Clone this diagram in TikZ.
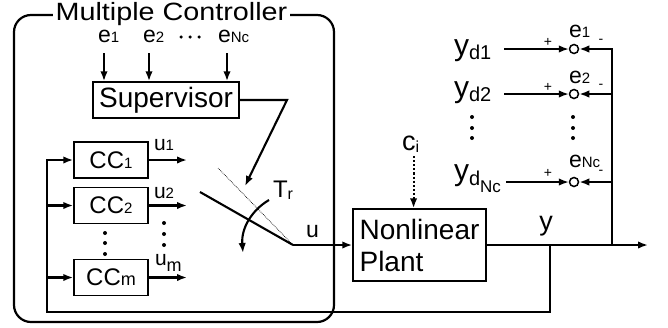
\documentclass[tikz,border=0pt]{standalone}
\usepackage{fontspec}
\setmainfont{Liberation Sans}
\newfontfamily\widesans[FakeStretch=1.15]{Liberation Sans}
\usetikzlibrary{positioning, arrows.meta}
\newcommand{\subtxt}[1]{{\fontsize{15}{15}\selectfont #1}}
\newcommand{\lowsub}[2]{\raisebox{-#1}{\fontsize{16}{16}\selectfont #2}}

\begin{document}
\begin{tikzpicture}[
    x=1pt, y=-1pt,
    >={Latex[length=10pt, width=7.5pt]},
    line width=2.1pt,
    blk/.style={draw, line width=1.5pt, inner sep=0pt, font=\fontsize{28}{32}\selectfont},
    ccbox/.style={blk, minimum width=74pt, minimum height=36pt, font=\fontsize{24}{24}\selectfont},
    lbl/.style={inner sep=0pt, font=\fontsize{23}{23}\selectfont},
    elbl/.style={lbl, inner ysep=10pt, font=\fontsize{23}{23}\selectfont},
    ulbl/.style={lbl, font=\fontsize{21}{21}\selectfont},
    ydlbl/.style={lbl, font=\fontsize{30}{30}\selectfont},
    pm/.style={inner sep=0pt, font=\fontsize{14}{14}\selectfont},
    sum/.style={circle, draw, line width=1.5pt, minimum size=9pt, inner sep=0pt},
    dot/.style={circle, fill, minimum size=4pt, inner sep=0pt}
  ]
  \useasboundingbox (0,0) rectangle (668,327);

  % controller frame
  \draw[rounded corners=17pt, line width=2.2pt] (14,15) rectangle (334,322);
  \node[fill=white, inner xsep=3pt, inner ysep=1pt, anchor=base,
        font=\widesans\fontsize{25}{25}\selectfont] (title) at (171.5,20.5) {Multiple Controller};

  % supervisor and its error inputs
  \node[blk, minimum width=146pt, minimum height=36pt] (sup) at (166,100) {Supervisor};
  \node[elbl, anchor=base west] (e1) at (97,42) {e\subtxt{1}};
  \node[elbl, anchor=base west] (e2) at (142,42) {e\subtxt{2}};
  \node[elbl, anchor=base west] (eN) at (217,42) {e\subtxt{Nc}};
  \foreach \i/\x in {1/181, 2/190, 3/199}
    \node[dot, minimum size=3.5pt] (hd\i) at (\x,37) {};
  \foreach \n/\d in {e1/7, e2/7, eN/10} {
    \coordinate (\n a) at ([xshift=\d pt]\n.south west);
    \draw[->] (\n a) -- (\n a |- sup.north);
  }

  % local controllers
  \node[ccbox] (cc1) at (111,160) {CC\subtxt{1}};
  \node[ccbox] (cc2) at (111,205.5) {CC\subtxt{2}};
  \node[ccbox] (ccm) at (111,277.5) {CC{\fontsize{18}{18}\selectfont m}};
  \coordinate (uend) at (187,0);
  \foreach \n in {cc1, cc2, ccm}
    \draw[->] (\n.east) -- (\n.east -| uend);
  \node[ulbl, anchor=base west] (u1) at (153,150) {u\subtxt{1}};
  \node[ulbl, anchor=base west] (u2) at (153,198) {u\subtxt{2}};
  \node[ulbl, anchor=base west] (um) at (154,265) {u\raisebox{-6pt}{\fontsize{18}{18}\selectfont m}};
  \foreach \i/\y in {1/233, 2/243, 3/254}
    \node[dot] (vl\i) at (105,\y) {};
  \foreach \i/\y in {1/223, 2/234, 3/245}
    \node[dot] (vr\i) at (164,\y) {};

  % switch
  \coordinate (piv) at (293,245);
  \coordinate (blade) at (200,192);
  \coordinate (alt) at (218,168);
  \coordinate (sbend) at (287,100);
  \coordinate (stip) at (245,186);
  \draw[line width=0.7pt, densely dotted] (alt) -- (piv);
  \draw (blade) -- (piv);
  \draw[->] (sup.east) -- (sbend) -- (stip);
  \coordinate (tra) at (269,200);
  \coordinate (trb) at (243,253);
  \draw[->] (tra) .. controls (252,210) and (241,228) .. (trb);
  \node[lbl, anchor=base west, font=\fontsize{24}{24}\selectfont] (tr) at (272,197) {T\lowsub{2pt}{r}};
  \node[lbl, anchor=base west] (u) at (305,237) {u};

  % plant
  \node[blk, minimum width=133pt, minimum height=72pt, align=left] (plant) at (419.5,245) {Nonlinear\\Plant};
  \draw[->] (piv) -- (piv -| plant.west);
  \node[lbl, anchor=base west, font=\fontsize{27}{27}\selectfont] (ci) at (401,150) {c\lowsub{2pt}{i}};
  \coordinate (cia) at ([xshift=3pt, yshift=-3pt]ci.south);
  \draw[->, dotted] (cia) -- (cia |- plant.north);

  % output and feedback to the controllers
  \coordinate (yend) at (648,245);
  \draw[->] (plant.east) -- (yend);
  \node[lbl, font=\fontsize{27}{27}\selectfont] (ylbl) at (546,226) {y};
  \coordinate (ltap) at (550,245);
  \coordinate (fbl) at (47,312);
  \draw[->] (ltap) -- (ltap |- fbl) -- (fbl) -- (fbl |- cc1) -- (cc1);
  \draw[->] (fbl |- cc2) -- (cc2);
  \draw[->] (fbl |- ccm) -- (ccm);

  % reference comparators
  \node[sum] (s1) at (574,49) {};
  \node[sum] (s2) at (574,94) {};
  \node[sum] (sN) at (574,182) {};
  \node[ydlbl, anchor=base west] (yd1) at (453,55)
    {y\raisebox{-4pt}{\fontsize{20}{20}\selectfont d1}};
  \node[ydlbl, anchor=base west] (yd2) at (453,97)
    {y\raisebox{-4pt}{\fontsize{20}{20}\selectfont d2}};
  \node[ydlbl, anchor=base west] (ydN) at (453,180)
    {y\raisebox{-5pt}{\fontsize{20}{20}\selectfont d\raisebox{-7pt}{\fontsize{17}{17}\selectfont Nc}}};
  \node[elbl, anchor=base west] (re1) at (568,37) {e\subtxt{1}};
  \node[elbl, anchor=base west] (re2) at (568,83) {e\subtxt{2}};
  \node[elbl, anchor=base west] (reN) at (568,167) {e\subtxt{Nc}};
  \foreach \i/\y in {1/42, 2/87, 3/173} {
    \node[pm] (p\i) at (548,\y) {+};
    \node[pm] (m\i) at (601,\y-1) {-};
  }
  \foreach \i/\y in {1/117, 2/128, 3/138} {
    \node[dot] (dl\i) at (472,\y) {};
    \node[dot] (dr\i) at (573,\y) {};
  }
  \foreach \n/\s/\d in {yd1/s1/12, yd2/s2/12, ydN/sN/4} {
    \coordinate (\n a) at ([xshift=\d pt]\n.east);
    \draw[->, line width=1.6pt] (\n a |- \s) -- (\s);
  }
  \coordinate (rtap) at (612,245);
  \draw[->] (rtap) -- (rtap |- s1) -- (s1);
  \draw[->] (rtap |- s2) -- (s2);
  \draw[->] (rtap |- sN) -- (sN);

\end{tikzpicture}
\end{document}
